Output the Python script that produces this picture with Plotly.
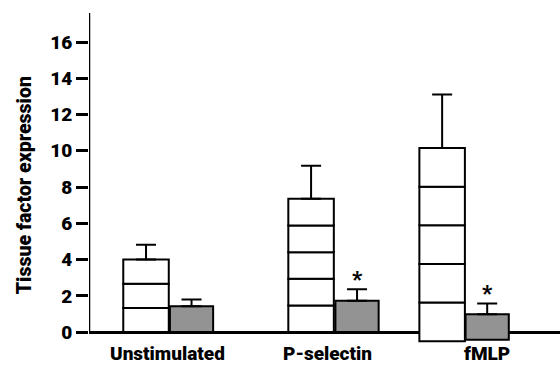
import plotly.graph_objects as go

# ---------------- data ----------------
categories = ["Unstimulated", "P-selectin", "fMLP"]
white_mean = [4.0, 7.35, 10.15]
white_err = [0.82, 1.83, 2.95]
white_base = [0.0, 0.0, -0.5]
white_segments = [3, 5, 5]
gray_mean = [1.42, 1.73, 0.98]
gray_err = [0.38, 0.64, 0.60]
gray_base = [0.0, 0.0, -0.42]
significant = [False, True, True]
y_ticks = [0, 2, 4, 6, 8, 10, 12, 14, 16]
y_title = "Tissue factor expression"

# ---------------- layout positions ----------------
white_x = [1.253, 4.88, 7.76]
gray_x = [2.253, 5.89, 8.75]
label_x = [1.725, 5.25, 8.75]
FONT = "Roboto, Liberation Sans, sans-serif"
GRAY = "#939393"
W = 900

fig = go.Figure()

# white bars drawn as equal stacked segments
max_seg = max(white_segments)
for k in range(max_seg):
    ys, bs = [], []
    for m, b, n in zip(white_mean, white_base, white_segments):
        seg = (m - b) / n
        ys.append(seg if k < n else None)
        bs.append(b + k * seg)
    fig.add_trace(go.Bar(x=white_x, y=ys, base=bs, width=1.0,
                         marker=dict(color="white", line=dict(color="black", width=2)),
                         showlegend=False, hoverinfo="skip"))

# error bars for white bars
fig.add_trace(go.Bar(x=white_x, y=[m - b for m, b in zip(white_mean, white_base)],
                     base=white_base, width=1.0,
                     marker=dict(color="rgba(0,0,0,0)", line=dict(width=0)),
                     error_y=dict(type="data", symmetric=False, array=white_err,
                                  arrayminus=[0] * 3, color="black", thickness=2, width=10),
                     showlegend=False))

# gray bars
fig.add_trace(go.Bar(x=gray_x, y=[m - b for m, b in zip(gray_mean, gray_base)],
                     base=gray_base, width=0.95,
                     marker=dict(color=GRAY, line=dict(color="black", width=2)),
                     error_y=dict(type="data", symmetric=False, array=gray_err,
                                  arrayminus=[0] * 3, color="black", thickness=2, width=10),
                     showlegend=False))

# significance asterisks
for x, m, e, s in zip(gray_x, gray_mean, gray_err, significant):
    if s:
        fig.add_annotation(x=x, y=m + e, xref="x", yref="y", text="*", showarrow=False,
                           xanchor="center", yanchor="middle", yshift=10,
                           font=dict(family=FONT, size=22, weight=W, color="black"))

# y axis line (from 0 upward)
fig.add_shape(type="line", xref="x", yref="y", x0=0, x1=0, y0=0, y1=17.6,
              line=dict(color="black", width=2.5))

# category labels
for x, c in zip(label_x, categories):
    fig.add_annotation(x=x, y=-0.032, xref="x", yref="paper", text=c, showarrow=False,
                       xanchor="center", yanchor="middle",
                       font=dict(family=FONT, size=19, weight=W, color="black"))

# y title
fig.add_annotation(x=0, y=0.478, xref="paper", yref="paper", xshift=-65, text=y_title,
                   textangle=-90, showarrow=False, xanchor="center", yanchor="middle",
                   font=dict(family=FONT, size=19.5, weight=W, color="black"))

fig.update_layout(
    width=560, height=367,
    margin=dict(l=89, r=0, t=12.7, b=24.4),
    plot_bgcolor="white", paper_bgcolor="white",
    barmode="overlay",
    font=dict(family=FONT, color="black"),
    xaxis=dict(range=[0, 10.35], showgrid=False, zeroline=False, showline=False,
               showticklabels=False, ticks="", automargin=False),
    yaxis=dict(range=[-0.6, 17.6], showgrid=False, showline=False, automargin=False,
               zeroline=True, zerolinecolor="black", zerolinewidth=2.5,
               tickvals=y_ticks, ticks="outside", ticklen=12, tickwidth=2.5,
               tickcolor="black",
               tickfont=dict(size=19, weight=W, family=FONT)),
)

fig.write_html("out.html", config={"displayModeBar": False},
               post_script="document.body.style.margin='0px';document.body.style.padding='0px';")
